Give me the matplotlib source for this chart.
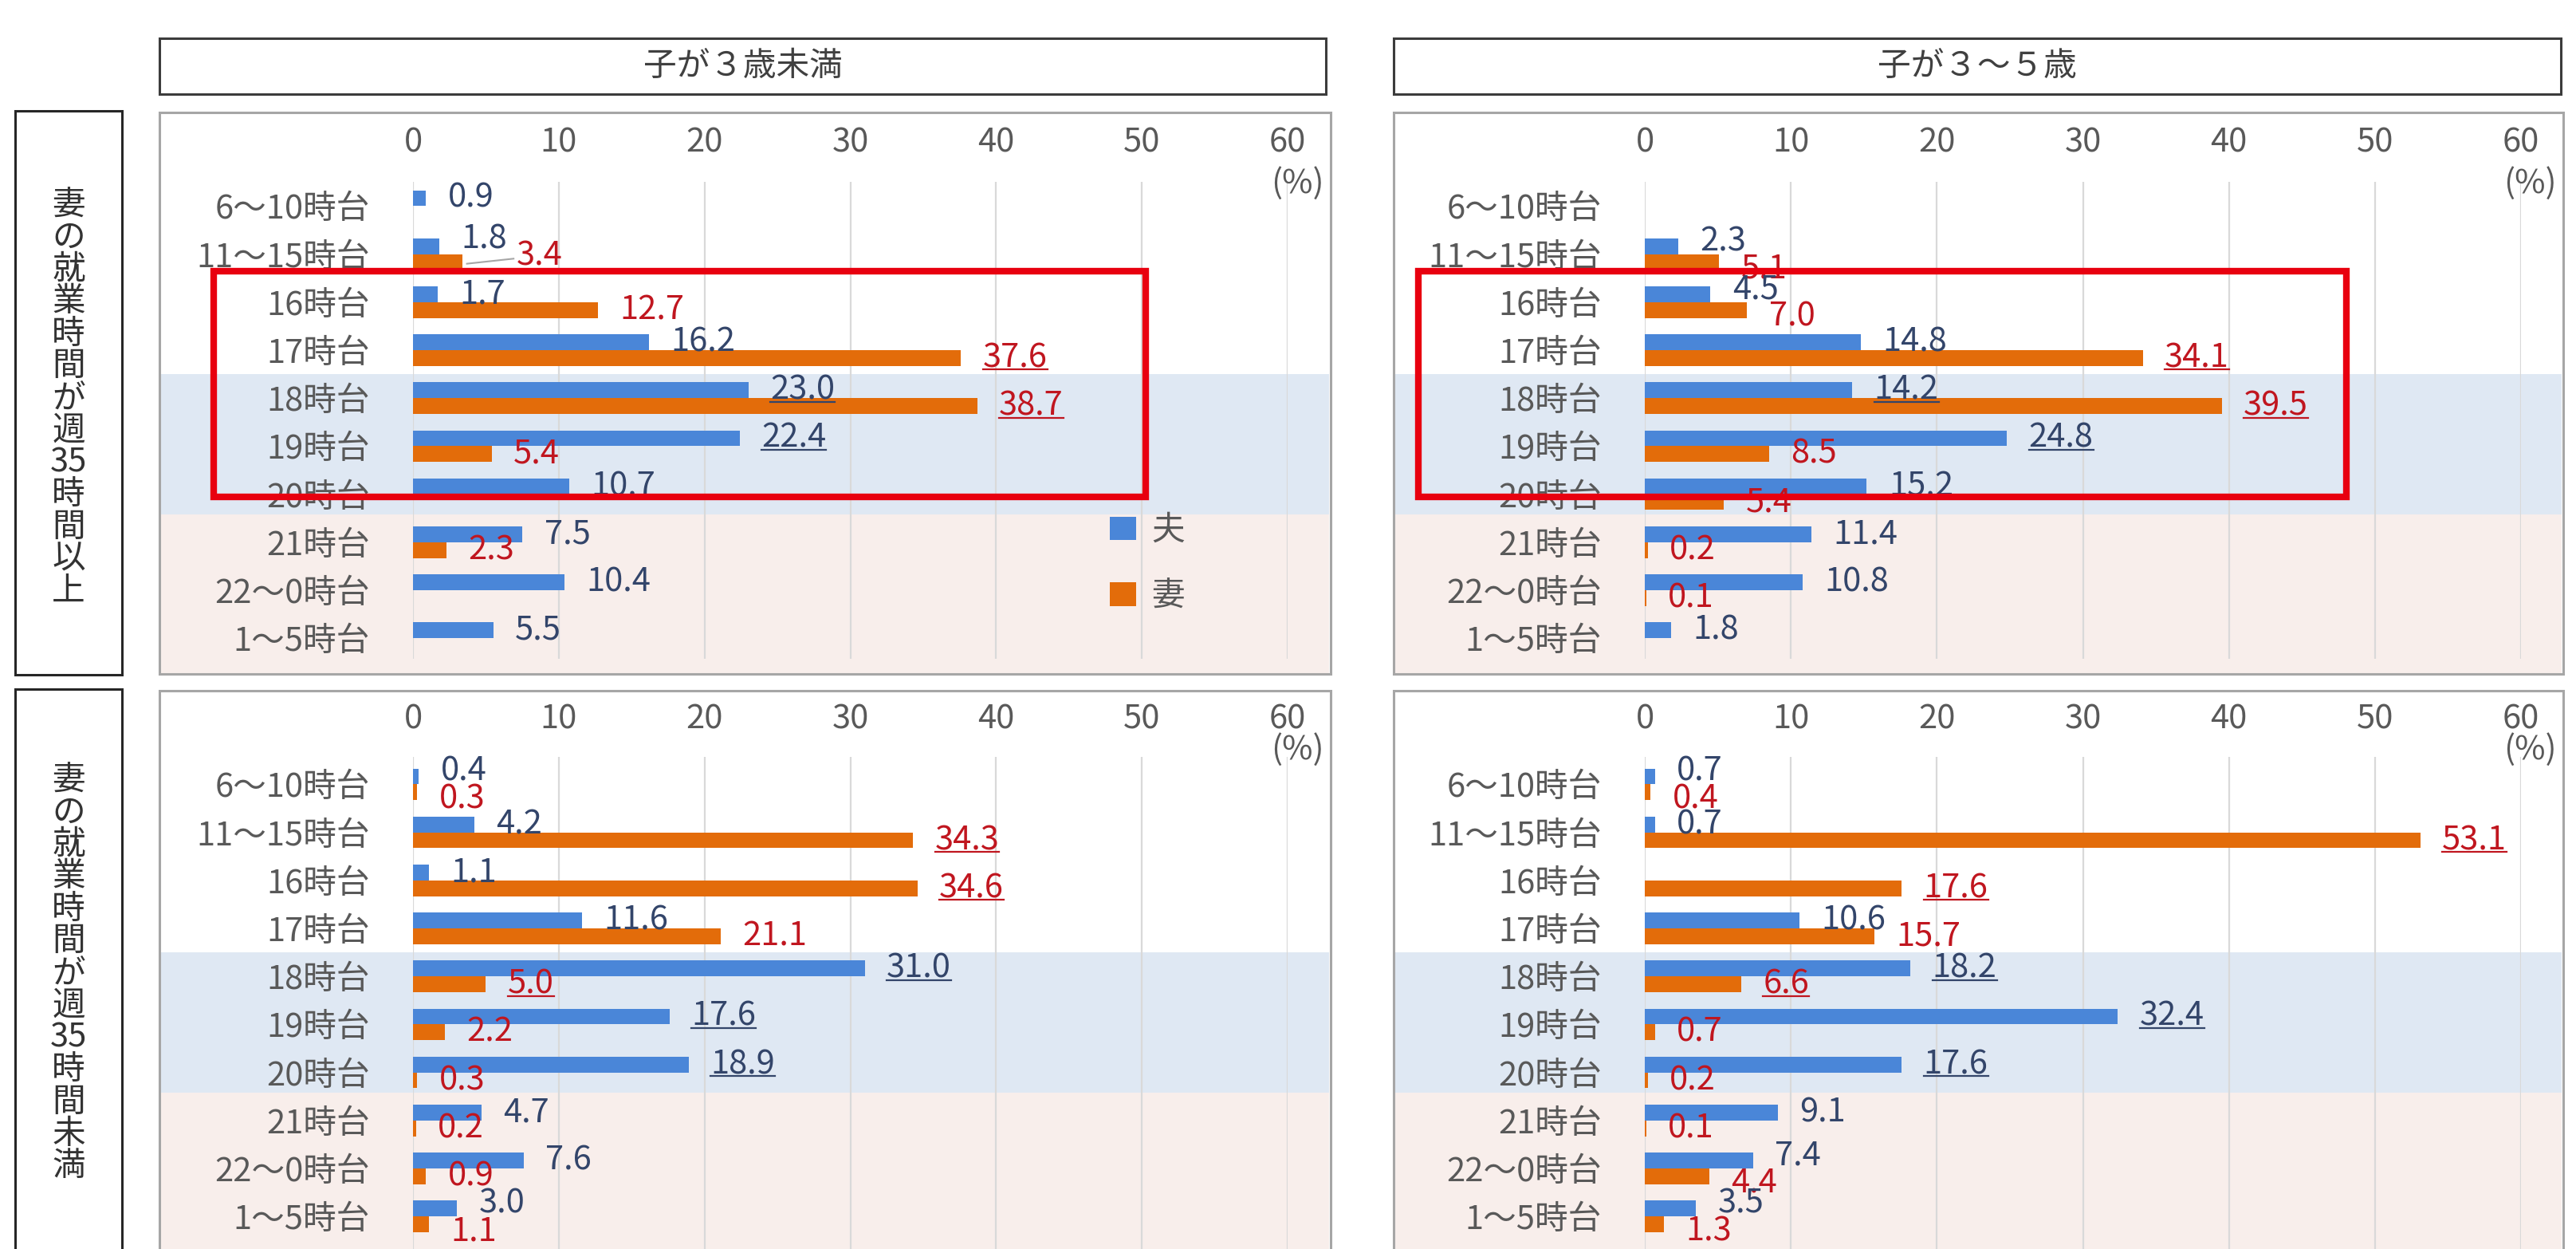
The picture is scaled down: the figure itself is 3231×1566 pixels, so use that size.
import re
import matplotlib
matplotlib.use("Agg")
import matplotlib.pyplot as plt
import matplotlib.transforms as mtransforms
from matplotlib.patches import Rectangle
from matplotlib.lines import Line2D

plt.rcParams['font.family'] = ['Noto Sans CJK JP', 'DejaVu Sans']

categories = ["6～10時台", "11～15時台", "16時台", "17時台", "18時台",
              "19時台", "20時台", "21時台", "22～0時台", "1～5時台"]
col_titles = ["子が３歳未満", "子が３～５歳"]
row_titles = ["妻の就業時間が週35時間以上", "妻の就業時間が週35時間未満"]
series_names = ["夫", "妻"]
x_ticks = [0, 10, 20, 30, 40, 50, 60]

# None = no bar, no label
husband_full_u3 = [0.9, 1.8, 1.7, 16.2, 23.0, 22.4, 10.7, 7.5, 10.4, 5.5]
wife_full_u3 = [None, 3.4, 12.7, 37.6, 38.7, 5.4, None, 2.3, None, None]
husband_full_3to5 = [None, 2.3, 4.5, 14.8, 14.2, 24.8, 15.2, 11.4, 10.8, 1.8]
wife_full_3to5 = [None, 5.1, 7.0, 34.1, 39.5, 8.5, 5.4, 0.2, 0.1, None]
husband_part_u3 = [0.4, 4.2, 1.1, 11.6, 31.0, 17.6, 18.9, 4.7, 7.6, 3.0]
wife_part_u3 = [0.3, 34.3, 34.6, 21.1, 5.0, 2.2, 0.3, 0.2, 0.9, 1.1]
husband_part_3to5 = [0.7, 0.7, None, 10.6, 18.2, 32.4, 17.6, 9.1, 7.4, 3.5]
wife_part_3to5 = [0.4, 53.1, 17.6, 15.7, 6.6, 0.7, 0.2, 0.1, 4.4, 1.3]

# category indexes whose labels are underlined
husband_ul_full = [4, 5]
wife_ul_full = [3, 4]
husband_ul_part = [4, 5, 6]
wife_ul_part = [1, 2, 4]

panels = {
    (0, 0): (husband_full_u3, wife_full_u3, husband_ul_full, wife_ul_full),
    (0, 1): (husband_full_3to5, wife_full_3to5, husband_ul_full, wife_ul_full),
    (1, 0): (husband_part_u3, wife_part_u3, husband_ul_part, wife_ul_part),
    (1, 1): (husband_part_3to5, wife_part_3to5, husband_ul_part, wife_ul_part),
}

BLUE = "#4a86d8"
ORANGE = "#e36c0a"
BLUE_TXT = "#33456a"
RED_TXT = "#c0161f"
GRAY = "#595959"
FS = 30

W, H = 3231, 1566
STEP = 60.2
COLS = [dict(box=(200, 1669), zero=518, sixty=1615, head=(200, 1663), red=(268, 1437)),
        dict(box=(1748, 3215), zero=2063, sixty=3162, head=(1748, 3212), red=(1779, 2943))]
ROWS = [dict(box=(141, 845), grid=(228, 826), c0=258.4, tick=176, pct=230, title_y=258),
        dict(box=(866, 1640), grid=(949, 1640), c0=983.4, tick=899, pct=940, title_y=979)]

fig = plt.figure(figsize=(W / 100, H / 100), dpi=100)


def fbox(x0, y0, x1, y1):
    return [x0 / W, 1 - y1 / H, (x1 - x0) / W, (y1 - y0) / H]


ul_texts = []

for (r, c), (hus, wif, hus_ul, wif_ul) in panels.items():
    col, row = COLS[c], ROWS[r]
    ax = fig.add_axes(fbox(col['zero'], row['grid'][0], col['sixty'], row['grid'][1]))
    ax.set_xlim(0, 60)
    d_top = (row['grid'][0] - row['c0']) / STEP
    d_bot = (row['grid'][1] - row['c0']) / STEP
    ax.set_ylim(d_bot, d_top)
    ax.patch.set_visible(False)
    for s in ax.spines.values():
        s.set_visible(False)

    idx = list(range(len(categories)))
    hv = [v if v is not None else 0 for v in hus]
    wv = [v if v is not None else 0 for v in wif]
    bh = ax.barh([i - 0.165 for i in idx], hv, height=0.33, color=BLUE, zorder=2)
    bw = ax.barh([i + 0.165 for i in idx], wv, height=0.33, color=ORANGE, zorder=2)

    ax.set_xticks(x_ticks)
    ax.xaxis.tick_top()
    ax.tick_params(axis='x', length=0, labelsize=FS, labelcolor=GRAY,
                   pad=(row['grid'][0] - row['tick'] - 23.6) / 1.389)
    ax.set_yticks(idx)
    ax.set_yticklabels(categories)
    ax.tick_params(axis='y', length=0, labelsize=FS, labelcolor=GRAY, pad=54 / 1.389)
    ax.grid(axis='x', color='#d9d9d9', lw=1.6)
    ax.set_axisbelow(True)

    # background bands across the panel
    blend = mtransforms.blended_transform_factory(fig.transFigure, ax.transData)
    bx0 = (col['box'][0] + 2) / W
    bwid = (col['box'][1] - col['box'][0] - 4) / W
    pink_end = (row['box'][1] - row['c0']) / STEP
    ax.add_patch(Rectangle((bx0, 3.5), bwid, 2.92, transform=blend, clip_on=False,
                           facecolor="#dfe8f3", edgecolor='none', zorder=0.2))
    ax.add_patch(Rectangle((bx0, 6.42), bwid, pink_end - 6.42, transform=blend, clip_on=False,
                           facecolor="#f8eeeb", edgecolor='none', zorder=0.2))

    # value labels (pushed apart a little when the two labels would collide)
    for i in idx:
        close = hus[i] is not None and wif[i] is not None and abs(hus[i] - wif[i]) < 3.5
        special = (r, c, i) == (0, 0, 1)
        if hus[i] is not None:
            dy = -0.15 if special else (-0.1 if close else 0)
            t = ax.text(hus[i] + 1.5, i - 0.165 + dy, f"{hus[i]:.1f}", ha='left', va='center',
                        color=BLUE_TXT, fontsize=FS, zorder=4)
            if i in hus_ul:
                ul_texts.append(t)
        if wif[i] is not None:
            dx = 2.2 if special else 0
            dy = -0.12 if special else (0.14 if close else 0)
            t = ax.text(wif[i] + 1.5 + dx, i + 0.165 + dy, f"{wif[i]:.1f}", ha='left', va='center',
                        color=RED_TXT, fontsize=FS, zorder=4)
            if i in wif_ul:
                ul_texts.append(t)
            if special:
                ax.add_line(Line2D([wif[i] + 0.3, wif[i] + 1.5 + dx - 0.2],
                                   [i + 0.2, i + 0.165 + dy + 0.05], color='#a6a6a6', lw=1.5))

    # (%) unit
    fig.text((col['box'][1] - 8) / W, 1 - row['pct'] / H, "(%)", ha='right', va='center',
             fontsize=FS, color=GRAY)

    # panel border
    fig.add_artist(Rectangle((col['box'][0] / W, 1 - row['box'][1] / H),
                             (col['box'][1] - col['box'][0]) / W,
                             (row['box'][1] - row['box'][0]) / H,
                             transform=fig.transFigure, fill=False, edgecolor='#a6a6a6',
                             lw=2.2, zorder=3))

    # red highlight frame on the upper panels
    if r == 0:
        rx0, rx1 = col['red']
        fig.add_artist(Rectangle((rx0 / W, 1.356), (rx1 - rx0) / W, 6.056 - 1.356,
                                 transform=blend, fill=False, edgecolor='#e8000f',
                                 lw=6, zorder=6))

    if (r, c) == (0, 0):
        ax.legend([bh, bw], series_names, loc='upper left',
                  bbox_to_anchor=(1392 / W, 1 - 645 / H), bbox_transform=fig.transFigure,
                  frameon=False, fontsize=FS, handlelength=0.8, handleheight=0.7,
                  handletextpad=0.45, labelspacing=1.0, borderpad=0, borderaxespad=0,
                  labelcolor=GRAY)

# column headers
for c, title in enumerate(col_titles):
    x0, x1 = COLS[c]['head']
    fig.add_artist(Rectangle((x0 / W, 1 - 118 / H), (x1 - x0) / W, 70 / H,
                             transform=fig.transFigure, fill=False, edgecolor='#3c3c3c',
                             lw=2.2, zorder=3))
    fig.text((x0 + x1) / 2 / W, 1 - 83 / H, title, ha='center', va='center',
             fontsize=FS, color='#404040')

# row headers, written vertically
for r, title in enumerate(row_titles):
    y0, y1 = ROWS[r]['box']
    y0 = y0 - 1
    fig.add_artist(Rectangle((19 / W, 1 - (y1 + 1) / H), 134 / W, (y1 - y0 + 2) / H,
                             transform=fig.transFigure, fill=False, edgecolor='#262626',
                             lw=2.2, zorder=3))
    for k, tok in enumerate(re.findall(r'\d+|.', title)):
        y = ROWS[r]['title_y'] + k * 40.3
        fig.text(86 / W, 1 - y / H, tok, ha='center', va='center', fontsize=FS,
                 color='#333333')

# underline selected labels
fig.canvas.draw()
renderer = fig.canvas.get_renderer()
for t in ul_texts:
    bb = t.get_window_extent(renderer)
    y = bb.y0 + 6
    fig.add_artist(Line2D([bb.x0 / W, bb.x1 / W], [y / H, y / H], transform=fig.transFigure,
                          color=t.get_color(), lw=1.6, zorder=5))

fig.savefig("out.png", dpi=100)
